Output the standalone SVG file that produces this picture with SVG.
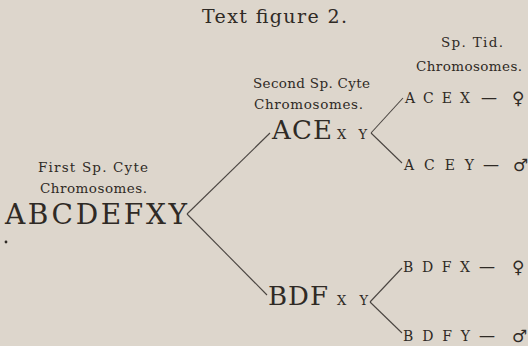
<svg xmlns="http://www.w3.org/2000/svg" width="528" height="346" viewBox="0 0 528 346">
<style>
text{font-family:"DejaVu Serif","Liberation Serif",serif;fill:#2f2a25}
.lab{font-size:13.5px}
.big{font-size:26px}
.sm{font-size:13px}
.ch{font-size:14px}
.sym{font-family:"DejaVu Sans",sans-serif;font-size:17px}
.dash{font-size:16px}
#connectors line{stroke:#4a4541;stroke-width:1.1}
</style>
<rect width="528" height="346" fill="#ddd6cc"/>
<text x="202" y="23" font-size="19" textLength="145" lengthAdjust="spacing">Text figure 2.</text>
<g id="connectors">
<line x1="187" y1="214" x2="270" y2="133"/>
<line x1="187" y1="214" x2="267" y2="295"/>
<line x1="371" y1="133" x2="403" y2="98"/>
<line x1="371" y1="133" x2="402" y2="163"/>
<line x1="370" y1="302" x2="402" y2="268"/>
<line x1="370" y1="302" x2="402" y2="333"/>
</g>
<g id="first">
<text class="lab" x="38" y="172" textLength="110" lengthAdjust="spacing">First Sp. Cyte</text>
<text class="lab" x="40" y="193" textLength="107" lengthAdjust="spacing">Chromosomes.</text>
<text x="5" y="224" font-size="28" textLength="182" lengthAdjust="spacing">ABCDEFXY</text>
<circle cx="6" cy="242" r="1.4" fill="#2f2a25"/>
</g>
<g id="second-head">
<text class="lab" x="253" y="88" textLength="117" lengthAdjust="spacing">Second Sp. Cyte</text>
<text class="lab" x="254" y="109" textLength="109" lengthAdjust="spacing">Chromosomes.</text>
</g>
<g id="tid-head">
<text class="lab" x="441" y="47" textLength="62" lengthAdjust="spacing">Sp. Tid.</text>
<text class="lab" x="416" y="71" textLength="106" lengthAdjust="spacing">Chromosomes.</text>
</g>
<g id="ace">
<text class="big" x="272" y="139" textLength="60" lengthAdjust="spacing">ACE</text>
<text class="sm" x="337" y="139" textLength="30" lengthAdjust="spacing">XY</text>
</g>
<g id="bdf">
<text class="big" x="268" y="305" textLength="60" lengthAdjust="spacing">BDF</text>
<text class="sm" x="337" y="305" textLength="31" lengthAdjust="spacing">XY</text>
</g>
<g id="acex">
<text class="ch" x="405" y="103" textLength="65" lengthAdjust="spacing">ACEX</text>
<text class="dash" x="481" y="103">—</text>
<text class="sym" x="512" y="104">♀</text>
</g>
<g id="acey">
<text class="ch" x="404" y="170" textLength="70" lengthAdjust="spacing">ACEY</text>
<text class="dash" x="483" y="170">—</text>
<text class="sym" x="513" y="171">♂</text>
</g>
<g id="bdfx">
<text class="ch" x="403" y="272" textLength="67" lengthAdjust="spacing">BDFX</text>
<text class="dash" x="479" y="272">—</text>
<text class="sym" x="512" y="273">♀</text>
</g>
<g id="bdfy">
<text class="ch" x="403" y="341" textLength="67" lengthAdjust="spacing">BDFY</text>
<text class="dash" x="479" y="341">—</text>
<text class="sym" x="512" y="342">♂</text>
</g>
</svg>
